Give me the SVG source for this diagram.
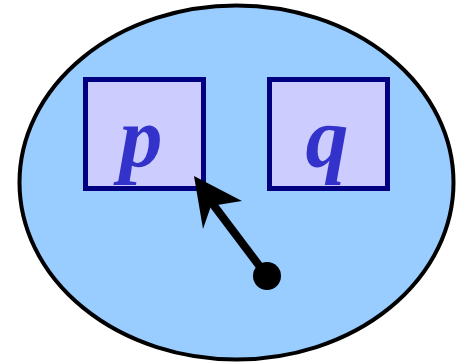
<svg xmlns="http://www.w3.org/2000/svg" width="462" height="362" viewBox="0 0 462 362">
<style>
.box{fill:#ccccff;stroke:#000080;stroke-width:5}
.lbl{font-family:"Liberation Serif",serif;font-weight:bold;font-style:italic;font-size:86px;fill:#3333cc;text-anchor:middle}
</style>
<g id="region">
<ellipse cx="236.5" cy="182.5" rx="217" ry="177" fill="#99ccff" stroke="#000" stroke-width="4"/>
</g>
<g id="p">
<rect class="box" x="85.5" y="79.5" width="118" height="109"/>
<text class="lbl" x="141" y="166">p</text>
</g>
<g id="q">
<rect class="box" x="269.5" y="79.5" width="118" height="109"/>
<text class="lbl" x="327" y="166">q</text>
</g>
<g id="connectors">
<line x1="267" y1="276" x2="212" y2="203" stroke="#000" stroke-width="8"/>
<circle cx="267" cy="276" r="14" fill="#000"/>
<polygon points="194,176 242,201 211,206 203,229" fill="#000"/>
</g>
</svg>
